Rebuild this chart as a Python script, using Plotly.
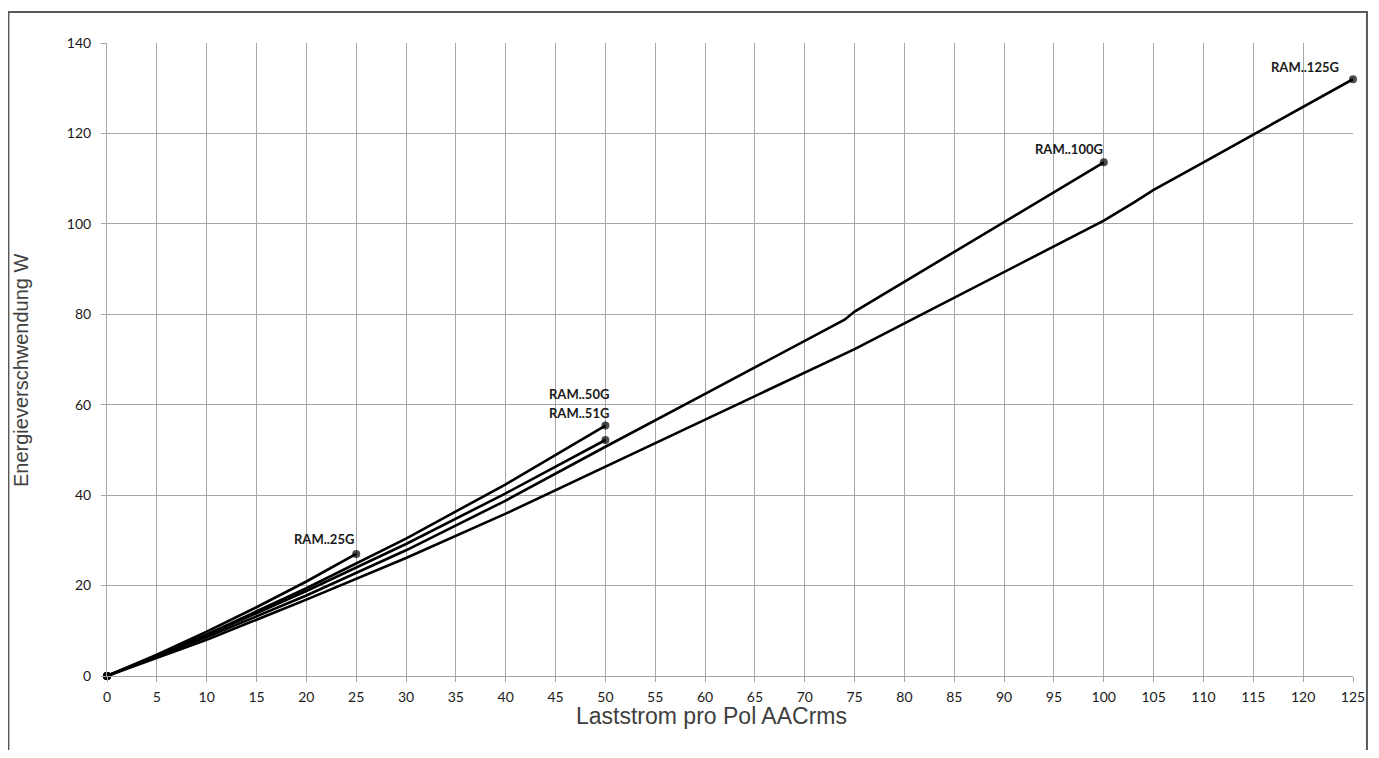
import plotly.graph_objects as go

# ---- data ----
series_names = ["RAM..25G", "RAM..50G", "RAM..51G", "RAM..100G", "RAM..125G"]

x_25g = [0, 5, 10, 15, 20, 25]
y_25g = [0, 4.7, 9.8, 15.2, 20.9, 27.0]

x_50g = [0, 5, 10, 20, 30, 40, 50]
y_50g = [0, 4.5, 9.2, 19.4, 30.4, 42.4, 55.4]

x_51g = [0, 5, 10, 20, 30, 40, 50]
y_51g = [0, 4.4, 9.0, 18.8, 29.2, 40.4, 52.2]

x_100g = [0, 10, 20, 30, 40, 50, 60, 70, 74, 75, 80, 90, 100]
y_100g = [0, 8.6, 17.8, 27.8, 38.8, 50.7, 62.4, 74.1, 78.8, 80.6, 87.2, 100.4, 113.6]

x_125g = [0, 10, 20, 30, 40, 50, 60, 70, 75, 80, 90, 100, 103, 105, 110, 120, 125]
y_125g = [0, 8.0, 16.9, 26.1, 35.9, 46.3, 56.7, 67.1, 72.3, 78.0, 89.4, 100.7, 104.7, 107.5, 113.6, 125.8, 132.0]

x_ticks = list(range(0, 126, 5))
y_ticks = list(range(0, 141, 20))

x_title = "Laststrom pro Pol AACrms"
y_title = "Energieverschwendung W"

# label offsets (pixels) relative to each series' end point
label_shift = {
    "RAM..25G": (0, 5),
    "RAM..50G": (6, 22),
    "RAM..51G": (6, 17),
    "RAM..100G": (1, 3),
    "RAM..125G": (-12, 2),
}

all_x = [x_25g, x_50g, x_51g, x_100g, x_125g]
all_y = [y_25g, y_50g, y_51g, y_100g, y_125g]

fig = go.Figure()
for name, xs, ys in zip(series_names, all_x, all_y):
    sizes = [8 if i in (0, len(xs) - 1) else 0 for i in range(len(xs))]
    fig.add_trace(go.Scatter(
        x=xs, y=ys, name=name, mode="lines+markers",
        line=dict(color="black", width=2.6),
        marker=dict(color="black", size=sizes, line=dict(width=0)),
        cliponaxis=False, showlegend=False,
    ))
    dx, dy = label_shift[name]
    fig.add_annotation(
        x=xs[-1], y=ys[-1], text="<b>%s</b>" % name, showarrow=False,
        xanchor="right", yanchor="bottom", xshift=dx, yshift=dy,
        font=dict(family="Lato, Open Sans, sans-serif", size=13, color="#1a1a1a"),
    )

axis_common = dict(
    showgrid=True, gridcolor="#a6a6a6", gridwidth=1,
    showline=True, linecolor="#a6a6a6", linewidth=1,
    ticks="outside", ticklen=5, tickcolor="#a6a6a6",
    tickfont=dict(family="Lato, sans-serif", size=14, color="#1a1a1a"),
    zeroline=False,
)

fig.update_xaxes(range=[0, 125], tickmode="array", tickvals=x_ticks,
                 ticklabelstandoff=3, **axis_common)
fig.update_yaxes(range=[0, 140], tickmode="array", tickvals=y_ticks,
                 ticklabelstandoff=7, **axis_common)

# axis titles (placed as in the original, slightly off-centre)
fig.add_annotation(text=x_title, xref="paper", yref="paper", x=0.4848, y=-0.0632,
                   xanchor="center", yanchor="middle", showarrow=False,
                   font=dict(family="Liberation Sans, Arial, sans-serif", size=23, color="#404040"))
fig.add_annotation(text=y_title, xref="paper", yref="paper", x=-0.0690, y=0.4834,
                   xanchor="center", yanchor="middle", showarrow=False, textangle=-90,
                   font=dict(family="Liberation Sans, Arial, sans-serif", size=20, color="#404040"))

# outer chart frame
fig.add_shape(type="rect", xref="paper", yref="paper",
              x0=-0.0791, x1=1.0112, y0=-0.2, y1=1.049,
              line=dict(color="#595959", width=2), layer="below")

fig.update_layout(
    width=1363, height=742,
    margin=dict(l=99, r=18, t=35, b=74, autoexpand=False),
    plot_bgcolor="white", paper_bgcolor="white",
)

fig.write_html("out.html")
